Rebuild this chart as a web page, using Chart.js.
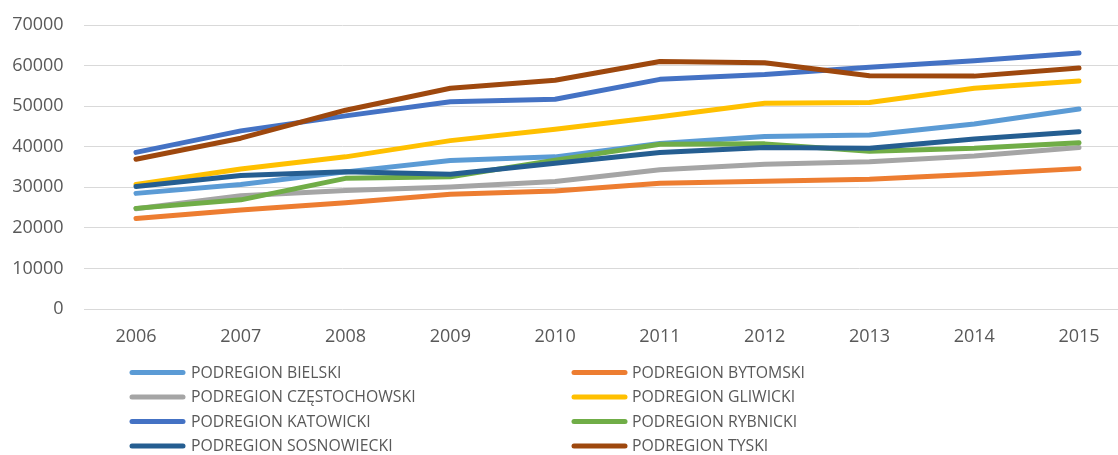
<!DOCTYPE html>
<html>
<head>
<meta charset="utf-8">
<script src="https://cdn.jsdelivr.net/npm/chart.js@4"></script>
<style>
  html, body { margin: 0; padding: 0; background: #fff; }
  #wrap { position: relative; width: 1118px; height: 455px; }
</style>
</head>
<body>
<div id="wrap"><canvas id="chart"></canvas></div>
<script>
// ─── DATA ───────────────────────────────────────────────────────
const years = [2006, 2007, 2008, 2009, 2010, 2011, 2012, 2013, 2014, 2015];
const yTicks = [0, 10000, 20000, 30000, 40000, 50000, 60000, 70000];

const bielski       = [28500, 30700, 33800, 36600, 37500, 40800, 42500, 42900, 45600, 49300];
const bytomski      = [22300, 24400, 26200, 28300, 29100, 31000, 31500, 32000, 33200, 34600];
const czestochowski = [24700, 27900, 29200, 30100, 31400, 34300, 35700, 36300, 37700, 39800];
const gliwicki      = [30700, 34500, 37500, 41500, 44300, 47400, 50700, 50900, 54400, 56200];
const katowicki     = [38600, 43900, 47600, 51100, 51700, 56600, 57800, 59600, 61200, 63100];
const rybnicki      = [24800, 26900, 32200, 32600, 36700, 40600, 40700, 38900, 39600, 41000];
const sosnowiecki   = [30200, 32900, 33800, 33200, 35900, 38600, 39800, 39600, 41900, 43700];
const tyski         = [36900, 42100, 49000, 54400, 56400, 61000, 60700, 57500, 57400, 59400];

const seriesNames = [
  'PODREGION BIELSKI', 'PODREGION BYTOMSKI', 'PODREGION CZĘSTOCHOWSKI', 'PODREGION GLIWICKI',
  'PODREGION KATOWICKI', 'PODREGION RYBNICKI', 'PODREGION SOSNOWIECKI', 'PODREGION TYSKI',
];
const seriesValues = [bielski, bytomski, czestochowski, gliwicki, katowicki, rybnicki, sosnowiecki, tyski];
const seriesColors = ['#5B9BD5', '#ED7D31', '#A5A5A5', '#FFC000', '#4472C4', '#70AD47', '#255E91', '#9E480E'];

// ─── STYLE ──────────────────────────────────────────────────────
const textColor = '#595959';
const fontFamily = "'Open Sans', 'Liberation Sans', sans-serif";

// two-column legend drawn under the plot, Excel style
const gridLegend = {
  id: 'gridLegend',
  afterDraw(chart) {
    const { ctx } = chart;
    const cols = [{ sx: 130, tx: 191 }, { sx: 572, tx: 632 }];
    ctx.save();
    ctx.font = `15.8px ${fontFamily}`;
    ctx.textBaseline = 'middle';
    ctx.lineCap = 'round';
    chart.data.datasets.forEach((ds, k) => {
      const c = cols[k % 2];
      const y = 372.5 + Math.floor(k / 2) * 24.5;
      ctx.strokeStyle = ds.borderColor;
      ctx.lineWidth = 5;
      ctx.beginPath();
      ctx.moveTo(c.sx + 2, y);
      ctx.lineTo(c.sx + 53, y);
      ctx.stroke();
      ctx.fillStyle = textColor;
      ctx.fillText(ds.label, c.tx, y + 0.5);
    });
    ctx.restore();
  },
};

new Chart(document.getElementById('chart'), {
  type: 'line',
  data: {
    datasets: seriesNames.map((name, i) => ({
      label: name,
      data: years.map((yr, j) => ({ x: yr, y: seriesValues[i][j] })),
      borderColor: seriesColors[i],
      backgroundColor: seriesColors[i],
      borderWidth: 5,
      borderCapStyle: 'round',
      borderJoinStyle: 'round',
      pointRadius: 0,
      tension: 0,
      order: seriesNames.length - i, // later series on top, like Excel
    })),
  },
  options: {
    responsive: true,
    maintainAspectRatio: false,
    animation: false,
    layout: { padding: { top: 25, right: 0, bottom: 100, left: 0 } },
    plugins: { legend: { display: false }, tooltip: { enabled: false } },
    scales: {
      x: {
        type: 'linear',
        min: 2005.5,
        max: 2015.372,
        afterBuildTicks: (s) => { s.ticks = years.map(v => ({ value: v })); },
        afterFit: (s) => { s.height = 46; },
        grid: { display: false },
        border: { display: false },
        ticks: {
          color: textColor,
          font: { family: fontFamily, size: 18 },
          padding: 9,
          maxRotation: 0,
          autoSkip: false,
          callback: (v) => String(v),
        },
      },
      y: {
        min: 0,
        max: 70000,
        afterBuildTicks: (s) => { s.ticks = yTicks.map(v => ({ value: v })); },
        // fixed width; drop the label overflow padding so layout padding rules the top
        afterFit: (s) => { s.width = 83.6; s.paddingTop = 0; s.paddingBottom = 0; },
        grid: { color: '#D9D9D9', lineWidth: 1, drawTicks: false },
        border: { display: false },
        ticks: {
          color: textColor,
          font: { family: fontFamily, size: 18 },
          padding: 20,
          callback: (v) => String(v),
        },
      },
    },
  },
  plugins: [gridLegend],
});
</script>
</body>
</html>
